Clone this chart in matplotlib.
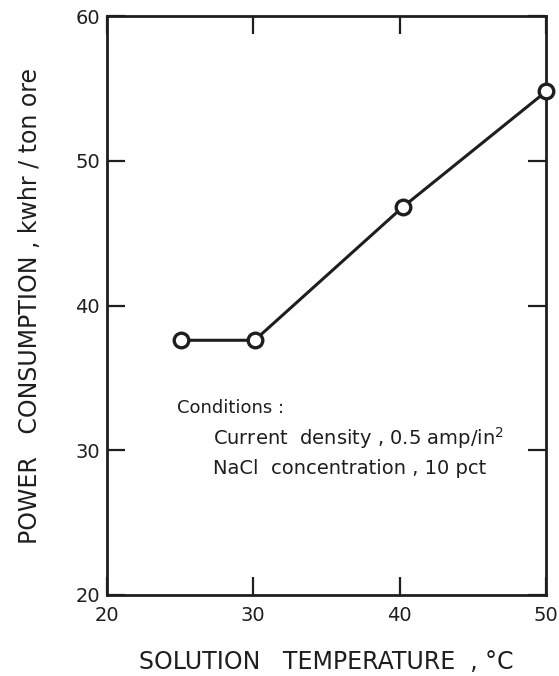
import matplotlib
matplotlib.use("Agg")
import matplotlib.pyplot as plt

# solution temperature (deg C) vs power consumption (kwhr / ton ore)
temperature = [25.1, 30.1, 40.2, 50.0]
power = [37.6, 37.6, 46.8, 54.8]

x_ticks = [20, 30, 40, 50]
y_ticks = [20, 30, 40, 50, 60]

ink = "#1e1e1e"
plt.rcParams["font.family"] = ["DejaVu Sans"]

fig = plt.figure(figsize=(5.59, 6.76), dpi=100)
ax = fig.add_axes([0.191, 0.12, 0.786, 0.856])

ax.plot(temperature, power, color=ink, lw=2.2, marker="o", ms=10.5,
        mfc="white", mec=ink, mew=2.4, zorder=3, clip_on=False)

ax.set_xlim(20, 50)
ax.set_ylim(20, 60)
ax.set_xticks(x_ticks)
ax.set_yticks(y_ticks)

for s in ax.spines.values():
    s.set_linewidth(2.0)
    s.set_color(ink)

ax.tick_params(direction="in", length=13, width=1.6, color=ink,
               labelsize=14, labelcolor=ink, top=True, right=True)
ax.tick_params(axis="x", pad=8)
ax.tick_params(axis="y", pad=5)

ax.set_xlabel("SOLUTION   TEMPERATURE  , \u00b0C", fontsize=17, color=ink,
              labelpad=18)
ax.set_ylabel("POWER   CONSUMPTION , kwhr / ton ore", fontsize=17,
              color=ink, labelpad=24)

ax.text(0.159, 0.323, "Conditions :", transform=ax.transAxes, fontsize=13,
        color=ink, va="center")
ax.text(0.241, 0.271, "Current  density , 0.5 amp/in$^2$",
        transform=ax.transAxes, fontsize=14, color=ink, va="center")
ax.text(0.241, 0.219, "NaCl  concentration , 10 pct",
        transform=ax.transAxes, fontsize=14, color=ink, va="center")

fig.savefig("out.png", dpi=100)
